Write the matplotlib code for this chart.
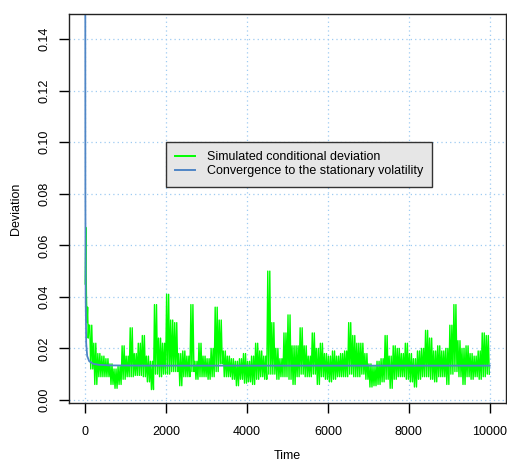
import matplotlib
matplotlib.use("Agg")
import matplotlib.pyplot as plt

plt.rcParams["font.family"] = ["Liberation Sans", "DejaVu Sans"]

# ---- data ----
# simulated conditional deviation: start of the path, then per-100-step envelope (high / low)
start_t = [0, 15, 30, 45, 60, 75, 90]
start_v = [0.045, 0.067, 0.041, 0.030, 0.036, 0.024, 0.029]

bin_width = 100
sim_hi = [0.029, 0.029, 0.022, 0.018, 0.017, 0.016, 0.014, 0.012, 0.013, 0.021,
          0.017, 0.028, 0.018, 0.022, 0.025, 0.017, 0.015, 0.037, 0.024, 0.022,
          0.041, 0.031, 0.030, 0.018, 0.019, 0.017, 0.037, 0.015, 0.022, 0.017,
          0.016, 0.020, 0.036, 0.031, 0.019, 0.017, 0.016, 0.015, 0.016, 0.018,
          0.015, 0.017, 0.022, 0.019, 0.017, 0.050, 0.030, 0.020, 0.016, 0.026,
          0.033, 0.021, 0.021, 0.028, 0.021, 0.017, 0.026, 0.020, 0.022, 0.018,
          0.017, 0.019, 0.017, 0.018, 0.019, 0.030, 0.025, 0.022, 0.022, 0.018,
          0.014, 0.013, 0.015, 0.016, 0.025, 0.017, 0.021, 0.020, 0.018, 0.022,
          0.018, 0.016, 0.019, 0.020, 0.027, 0.024, 0.019, 0.021, 0.019, 0.020,
          0.029, 0.037, 0.023, 0.020, 0.021, 0.018, 0.017, 0.019, 0.026, 0.025]
sim_lo = [0.022, 0.012, 0.006, 0.009, 0.009, 0.009, 0.006, 0.0045, 0.006, 0.008,
          0.009, 0.009, 0.0095, 0.0095, 0.009, 0.007, 0.004, 0.010, 0.009, 0.010,
          0.010, 0.011, 0.011, 0.0055, 0.009, 0.009, 0.011, 0.008, 0.009, 0.009,
          0.008, 0.009, 0.011, 0.014, 0.009, 0.009, 0.008, 0.0055, 0.008, 0.0065,
          0.007, 0.006, 0.008, 0.009, 0.008, 0.010, 0.010, 0.008, 0.009, 0.009,
          0.008, 0.006, 0.009, 0.010, 0.009, 0.009, 0.010, 0.006, 0.009, 0.008,
          0.007, 0.008, 0.009, 0.009, 0.009, 0.010, 0.009, 0.009, 0.010, 0.008,
          0.005, 0.0055, 0.006, 0.007, 0.008, 0.0045, 0.008, 0.009, 0.009, 0.008,
          0.007, 0.005, 0.008, 0.009, 0.009, 0.008, 0.007, 0.009, 0.009, 0.006,
          0.010, 0.011, 0.009, 0.006, 0.009, 0.008, 0.009, 0.008, 0.009, 0.010]

# convergence to the stationary volatility
conv_t = [0, 5, 12, 25, 50, 100, 200, 350, 600, 1500, 10000]
conv_v = [0.25, 0.08, 0.04, 0.022, 0.017, 0.0150, 0.0140, 0.0136, 0.0134, 0.0133, 0.0133]

x_ticks = [0, 2000, 4000, 6000, 8000, 10000]
y_ticks = [0.00, 0.02, 0.04, 0.06, 0.08, 0.10, 0.12, 0.14]

GREEN = "#00FF00"
BLUE = "#4F86C6"
GRID = "#9ECBF2"

# trace each bin's envelope twice (high, low, high, low) so the band reads as dense noise
sim_t = list(start_t)
sim_v = list(start_v)
for k, (h, l) in enumerate(zip(sim_hi, sim_lo)):
    if k == 0:
        continue
    base = k * bin_width
    sim_t += [base + 12.5, base + 37.5, base + 62.5, base + 87.5]
    sim_v += [h, l, h, l]

fig = plt.figure(figsize=(5.07, 4.63), dpi=100)
ax = fig.add_axes([69 / 507, 1 - 403 / 463, 437 / 507, 389 / 463])

for xt in x_ticks:
    ax.axvline(xt, color=GRID, lw=0.9, ls=(0, (1, 2.5)), zorder=0)
for yt in y_ticks:
    ax.axhline(yt, color=GRID, lw=0.9, ls=(0, (1, 2.5)), zorder=0)

ax.plot(sim_t, sim_v, color=GREEN, lw=1.0, label="Simulated conditional deviation")
ax.plot(conv_t, conv_v, color=BLUE, lw=1.3, label="Convergence to the stationary volatility")

ax.set_xlim(-400, 10400)
ax.set_ylim(-0.0012, 0.1498)
ax.set_xticks(x_ticks)
ax.set_xticklabels([str(v) for v in x_ticks])
ax.set_yticks(y_ticks)
ax.set_yticklabels([f"{v:.2f}" for v in y_ticks], rotation=90, va="center")
ax.tick_params(direction="out", length=7, width=1, labelsize=9)
ax.tick_params(axis="x", pad=9.5)
ax.tick_params(axis="y", pad=6.5)
for s in ax.spines.values():
    s.set_color("#222222")
    s.set_linewidth(1)

ax.set_xlabel("Time", fontsize=9, labelpad=9)
ax.set_ylabel("Deviation", fontsize=9, labelpad=11.5)

leg = ax.legend(loc="upper left", bbox_to_anchor=(0.222, 0.671), fontsize=9,
                frameon=True, fancybox=False, handlelength=1.6, handletextpad=0.9,
                borderpad=0.75, labelspacing=0.15, borderaxespad=0)
leg.get_frame().set_facecolor("#E6E6E6")
leg.get_frame().set_edgecolor("#333333")
leg.get_frame().set_alpha(1)
leg.get_frame().set_linewidth(1)
for line in leg.get_lines():
    line.set_linewidth(1.4)

fig.savefig("out.png", dpi=100)
